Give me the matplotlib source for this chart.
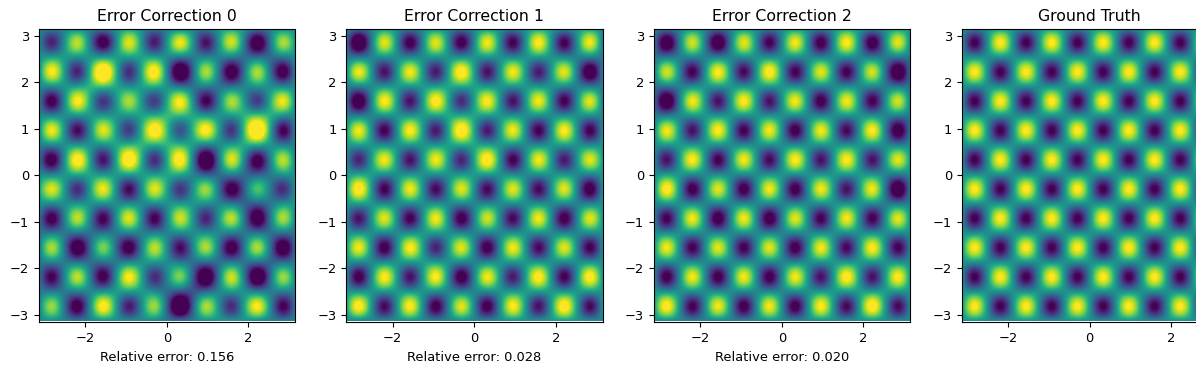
import numpy as np
import matplotlib
matplotlib.use('Agg')
import matplotlib.pyplot as plt

# peak value of each blob, rows from y=+2.83 down to y=-2.83, columns x=-2.83 to +2.83
CORRECTION_0 = [
    [-0.75, 0.75, -1.05, 0.85, -0.80, 0.90, -0.85, 0.80, -1.15, 0.70],
    [0.95, -0.75, 1.30, -0.70, 1.05, -1.30, 0.70, -1.10, 0.70, -1.05],
    [-1.00, 0.95, -0.65, 0.70, -0.60, 0.95, -0.95, 0.70, -0.60, 0.90],
    [0.90, -0.90, 0.85, -0.60, 1.10, -0.45, 1.00, -0.65, 1.35, -0.95],
    [-1.05, 1.05, -0.85, 1.15, -0.70, 1.05, -1.30, 0.85, -1.05, 0.75],
    [0.85, -0.70, 0.90, -0.90, 0.85, -0.65, 0.65, -1.05, 0.40, -0.70],
    [-1.00, 0.75, -0.95, 0.85, -0.95, 0.80, -0.75, 0.75, -1.15, 0.70],
    [0.70, -1.15, 0.55, -1.05, 0.75, -0.90, 0.70, -1.05, 0.70, -1.15],
    [-0.95, 0.75, -1.00, 0.95, -0.70, 0.55, -1.25, 0.80, -1.25, 0.65],
    [0.65, -1.05, 1.00, -0.80, 0.65, -1.40, 0.70, -0.70, 0.95, -0.95],
]
CORRECTION_1 = [
    [-1.25, 0.85, -1.00, 0.85, -1.00, 0.90, -0.95, 0.95, -0.95, 0.90],
    [0.90, -0.85, 0.90, -0.80, 1.05, -0.85, 0.90, -0.80, 0.85, -1.15],
    [-1.15, 0.95, -0.85, 1.00, -0.70, 0.95, -0.85, 0.90, -0.95, 0.85],
    [0.90, -0.95, 0.95, -0.80, 1.10, -0.80, 0.90, -0.95, 0.95, -0.95],
    [-0.75, 0.90, -0.85, 0.90, -0.75, 1.05, -0.95, 0.90, -0.80, 0.85],
    [1.05, -0.95, 0.90, -0.90, 0.85, -0.90, 0.85, -0.90, 0.85, -1.05],
    [-0.85, 0.85, -0.95, 0.90, -1.00, 0.80, -0.90, 0.90, -1.00, 0.85],
    [0.90, -1.00, 0.95, -0.75, 0.85, -1.00, 0.90, -0.90, 0.85, -0.95],
    [-1.00, 0.95, -0.85, 0.95, -1.05, 0.90, -0.80, 1.00, -0.95, 1.00],
    [1.00, -0.90, 0.95, -1.00, 0.85, -1.00, 0.95, -0.85, 1.05, -0.90],
]
CORRECTION_2 = [
    [-1.15, 0.80, -1.15, 0.85, -0.95, 0.90, -1.00, 0.95, -1.05, 0.85],
    [0.80, -0.95, 0.95, -0.90, 1.00, -0.95, 0.85, -0.95, 0.80, -1.20],
    [-1.20, 0.90, -0.85, 0.95, -0.85, 0.90, -1.00, 0.90, -0.95, 0.80],
    [0.90, -0.85, 0.95, -0.95, 0.90, -1.00, 0.90, -0.90, 0.95, -1.10],
    [-0.85, 0.95, -0.95, 0.90, -0.90, 0.95, -0.85, 0.95, -0.85, 0.85],
    [1.00, -1.00, 0.85, -1.00, 0.90, -1.00, 0.90, -0.85, 0.90, -1.20],
    [-0.95, 0.90, -1.05, 0.90, -1.05, 0.85, -0.95, 0.90, -0.95, 0.85],
    [0.90, -0.95, 0.85, -0.95, 0.85, -1.00, 0.90, -0.90, 0.95, -0.95],
    [-1.00, 0.90, -1.00, 0.90, -1.00, 0.90, -0.85, 1.00, -0.85, 0.95],
    [1.00, -0.95, 0.90, -1.00, 0.90, -1.00, 0.95, -0.90, 1.05, -0.90],
]
GROUND_TRUTH = [
    [-0.95, 0.95, -0.95, 0.95, -0.95, 0.95, -0.95, 0.95, -0.95, 0.95],
    [0.95, -0.95, 0.95, -0.95, 0.95, -0.95, 0.95, -0.95, 0.95, -0.95],
    [-0.95, 0.95, -0.95, 0.95, -0.95, 0.95, -0.95, 0.95, -0.95, 0.95],
    [0.95, -0.95, 0.95, -0.95, 0.95, -0.95, 0.95, -0.95, 0.95, -0.95],
    [-0.95, 0.95, -0.95, 0.95, -0.95, 0.95, -0.95, 0.95, -0.95, 0.95],
    [0.95, -0.95, 0.95, -0.95, 0.95, -0.95, 0.95, -0.95, 0.95, -0.95],
    [-0.95, 0.95, -0.95, 0.95, -0.95, 0.95, -0.95, 0.95, -0.95, 0.95],
    [0.95, -0.95, 0.95, -0.95, 0.95, -0.95, 0.95, -0.95, 0.95, -0.95],
    [-0.95, 0.95, -0.95, 0.95, -0.95, 0.95, -0.95, 0.95, -0.95, 0.95],
    [0.95, -0.95, 0.95, -0.95, 0.95, -0.95, 0.95, -0.95, 0.95, -0.95],
]

PANELS = [CORRECTION_0, CORRECTION_1, CORRECTION_2, GROUND_TRUTH]
TITLES = ['Error Correction 0', 'Error Correction 1', 'Error Correction 2', 'Ground Truth']
ERRORS = ['Relative error: 0.156', 'Relative error: 0.028', 'Relative error: 0.020', None]

FIG_W = 1196
FIG_H = 372
AX_LEFT = [38.5, 346, 653.5, 961.5]
AX_W = 256.5
AX_TOP = 29
AX_BOTTOM = 321.5
PAD = 2
COLOR_LIMIT = 0.92

fig = plt.figure(figsize=(FIG_W / 100, FIG_H / 100), dpi=100)

for left, values, title, error in zip(AX_LEFT, PANELS, TITLES, ERRORS):
    ax = fig.add_axes([
        left / FIG_W,
        1 - AX_BOTTOM / FIG_H,
        AX_W / FIG_W,
        (AX_BOTTOM - AX_TOP) / FIG_H,
    ])
    # the field repeats over the domain, wrap it so the edges fade out like the reference
    grid = np.pad(np.array(values), PAD, mode='wrap')
    cell = 2 * np.pi / 10
    half = np.pi + PAD * cell
    ax.imshow(
        grid,
        cmap='viridis',
        vmin=-COLOR_LIMIT,
        vmax=COLOR_LIMIT,
        interpolation='catrom',
        extent=(-half, half, -half, half),
        aspect='auto',
    )
    ax.set_xlim(-np.pi, np.pi)
    ax.set_ylim(-np.pi, np.pi)
    ax.set_xticks([-2, 0, 2])
    ax.set_yticks([-3, -2, -1, 0, 1, 2, 3])
    ax.tick_params(labelsize=9.4, length=3.3)
    ax.tick_params(axis='x', pad=4.5)
    ax.set_title(title, fontsize=11.3, pad=6)
    if error is not None:
        ax.set_xlabel(error, fontsize=9.4, labelpad=4)

fig.savefig('out.png', dpi=100)
